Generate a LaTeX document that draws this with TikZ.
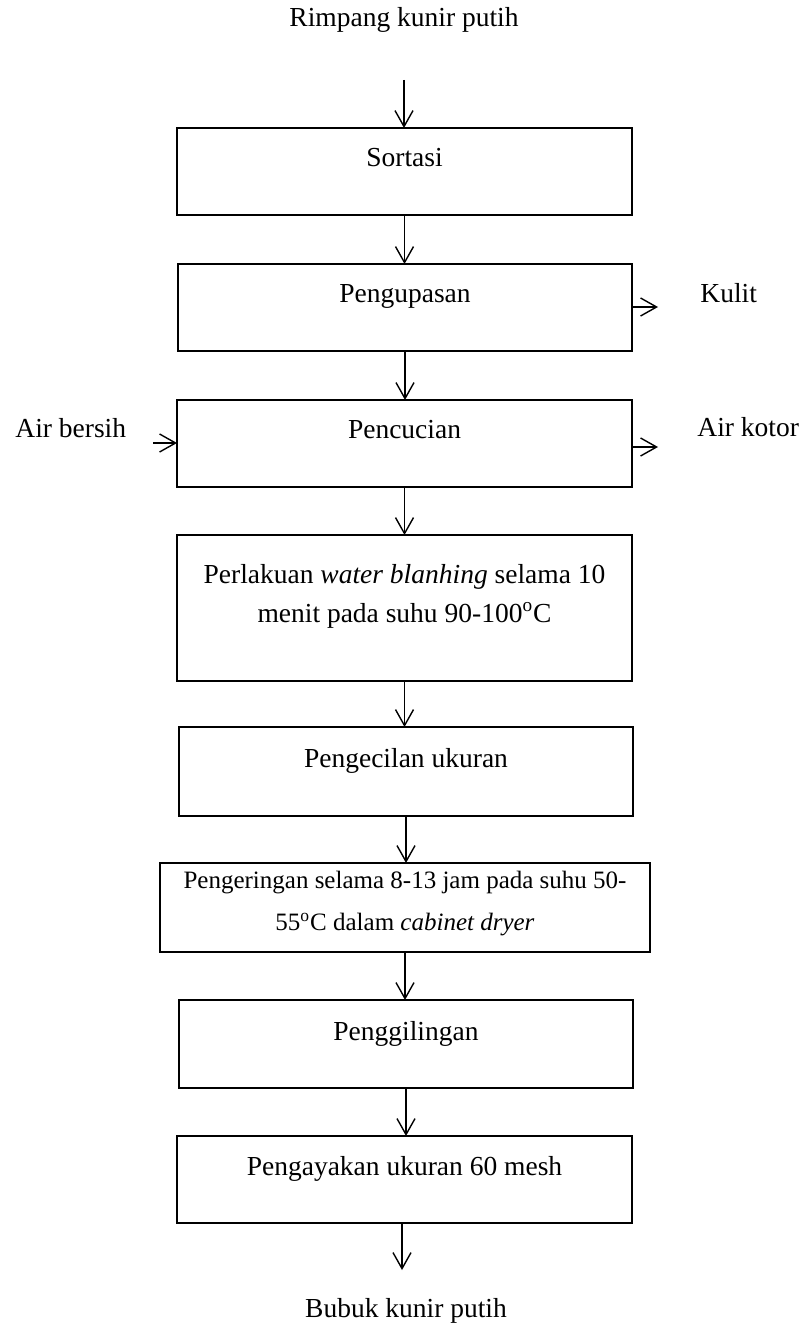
\documentclass[tikz,border=0pt]{standalone}
\usepackage{fontspec}
\setmainfont{Liberation Serif}
\usetikzlibrary{arrows.meta}
\begin{document}
\begin{tikzpicture}[x=0.5pt,y=-0.5pt,
  box/.style={draw, line width=0.9pt, inner sep=0pt, outer sep=0pt},
  lbl/.style={anchor=base, inner sep=0pt, font=\fontsize{13.75}{19.5}\selectfont, align=center},
  lbls/.style={anchor=base, inner sep=0pt, font=\fontsize{12.5}{21}\selectfont, align=center},
  side/.style={anchor=base west, inner sep=0pt, font=\fontsize{13.75}{19.5}\selectfont},
  arr/.style={line width=0.7pt, -{Straight Barb[length=8pt,width=9pt]}}]
\useasboundingbox (0,0) rectangle (806,1325);

% boxes
\node[box, minimum width=227.5pt, minimum height=43.5pt] (sort) at (404.5,171.5) {};
\node[box, minimum width=227pt, minimum height=43.5pt] (kupas) at (405,307.5) {};
\node[box, minimum width=227.5pt, minimum height=43.5pt] (cuci) at (404.5,443.5) {};
\node[box, minimum width=227.5pt, minimum height=73pt] (blanch) at (404.5,608) {};
\node[box, minimum width=227pt, minimum height=44.5pt] (kecil) at (406,771.5) {};
\node[box, minimum width=245pt, minimum height=44.5pt] (kering) at (405,907.5) {};
\node[box, minimum width=227pt, minimum height=44pt] (giling) at (406,1044) {};
\node[box, minimum width=227.5pt, minimum height=43.5pt] (ayak) at (404.5,1179.5) {};

% texts
\node[lbl] (tin) at (404,27) {Rimpang kunir putih};
\node[lbl] (tsort) at (404.5,167) {Sortasi};
\node[lbl] (tkupas) at (405,303) {Pengupasan};
\node[lbl] (tcuci) at (404.5,439) {Pencucian};
\node[lbl] (tblanch) at (404.5,622) {Perlakuan \textit{water blanhing} selama 10\\menit pada suhu 90-100\textsuperscript{o}C};
\node[lbl] (tkecil) at (406,767) {Pengecilan ukuran};
\node[lbls] (tkering) at (405,930) {Pengeringan selama 8-13 jam pada suhu 50-\\55\textsuperscript{o}C dalam \textit{cabinet dryer}};
\node[lbl] (tgiling) at (406,1040) {Penggilingan};
\node[lbl] (tayak) at (404.5,1175) {Pengayakan ukuran 60 mesh};
\node[lbl] (tout) at (406,1317) {Bubuk kunir putih};
\node[side] (tkulit) at (700,303) {Kulit};
\node[side] (tkotor) at (697,437) {Air kotor};
\node[side] (tbersih) at (15,438) {Air bersih};

% free ends
\coordinate (cin) at (404,80);
\coordinate (cout) at (402,1270);
\coordinate (ckulit) at (658,307);
\coordinate (ckotor) at (658,447);
\coordinate (cbersih) at (153,443);

% connectors
\draw[arr] (cin) -- (cin |- sort.north);
\draw[arr] (sort.south) -- (sort.south |- kupas.north);
\draw[arr] (kupas.south) -- (kupas.south |- cuci.north);
\draw[arr] (cuci.south) -- (cuci.south |- blanch.north);
\draw[arr] (blanch.south) -- (blanch.south |- kecil.north);
\draw[arr] (kecil.south) -- (kecil.south |- kering.north);
\draw[arr] (kering.south) -- (kering.south |- giling.north);
\draw[arr] (giling.south) -- (giling.south |- ayak.north);
\draw[arr] (cout |- ayak.south) -- (cout);
\draw[arr] (kupas.east |- ckulit) -- (ckulit);
\draw[arr] (cuci.east |- ckotor) -- (ckotor);
\draw[arr] (cbersih) -- (cuci.west |- cbersih);
\end{tikzpicture}
\end{document}
